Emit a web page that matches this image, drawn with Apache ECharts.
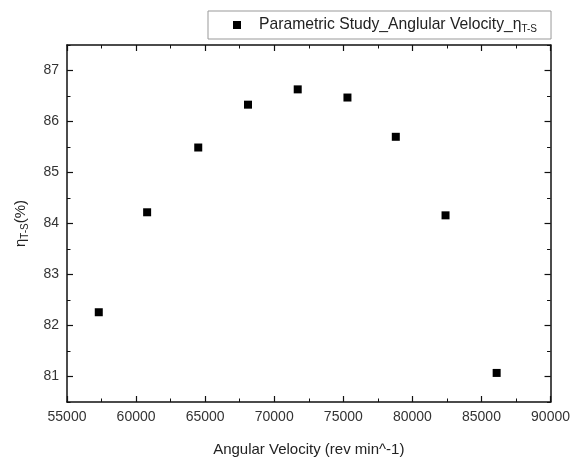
<!DOCTYPE html>
<html>
<head>
<meta charset="utf-8">
<script src="https://cdn.jsdelivr.net/npm/echarts@6/dist/echarts.min.js"></script>
<style>html,body{margin:0;padding:0;background:#fff}#c{width:573px;height:463px}</style>
</head>
<body>
<div id="c"></div>
<script>
const angularVelocity = [57300, 60800, 64500, 68100, 71700, 75300, 78800, 82400, 86100];
const efficiency = [82.26, 84.22, 85.49, 86.33, 86.63, 86.47, 85.70, 84.16, 81.07];
const yTickLabels = [81, 82, 83, 84, 85, 86, 87];
const seriesName = 'Parametric Study_Anglular Velocity_η';
const xTitle = 'Angular Velocity (rev min^-1)';

const chart = echarts.init(document.getElementById('c'));
const font = 'Liberation Sans, Arial, sans-serif';
const ink = '#111';
const lineStyle = { color: ink, width: 1.5 };
const majorTick = { show: true, inside: true, length: 6, lineStyle: { color: ink, width: 1.2 } };
const minorTickStyle = { show: true, inside: true, length: 3.5, lineStyle: { color: ink, width: 1 } };

function xAx(pos, labels) {
  return {
    type: 'value', min: 55000, max: 90000, interval: 5000, position: pos,
    axisLine: { show: true, onZero: false, lineStyle },
    axisTick: majorTick,
    minorTick: { show: true, splitNumber: 2, length: 3.5, lineStyle: { color: ink, width: 1 } },
    splitLine: { show: false }, minorSplitLine: { show: false },
    axisLabel: labels ? { color: '#333', fontFamily: font, fontSize: 14, margin: 8, formatter: v => String(v) } : { show: false }
  };
}
function yMajor(pos, labels) {
  return {
    type: 'value', min: 80.5, max: 87.5, position: pos,
    axisLine: { show: true, onZero: false, lineStyle },
    axisTick: Object.assign({}, majorTick, { customValues: yTickLabels }),
    splitLine: { show: false },
    axisLabel: labels ? { color: '#333', fontFamily: font, fontSize: 14, margin: 8, customValues: yTickLabels } : { show: false }
  };
}
function yMinor(pos) {
  return {
    type: 'value', min: 80.5, max: 87.5, interval: 0.5, position: pos,
    axisLine: { show: false }, axisTick: minorTickStyle,
    splitLine: { show: false }, axisLabel: { show: false }
  };
}

const xBottom = Object.assign(xAx('bottom', true), {
  name: xTitle, nameLocation: 'middle', nameGap: 40,
  nameTextStyle: { color: '#222', fontFamily: font, fontSize: 15 }
});
const yLeft = Object.assign(yMajor('left', true), {
  name: '{e|η}{s|T-S}{p|(%)}', nameLocation: 'middle', nameGap: 37, nameRotate: 90,
  nameTextStyle: {
    color: '#222', fontFamily: font, fontSize: 15,
    rich: {
      e: { fontSize: 15, fontFamily: font, color: '#222' },
      s: { fontSize: 10, fontFamily: font, color: '#222', padding: [8, 0, 0, 0] },
      p: { fontSize: 15, fontFamily: font, color: '#222' }
    }
  }
});

chart.setOption({
  animation: false,
  backgroundColor: '#fff',
  grid: { left: 67, right: 21, top: 45, bottom: 61 },
  legend: {
    left: 208, top: 11,
    data: [{ name: seriesName, icon: 'rect' }],
    itemWidth: 8, itemHeight: 8,
    borderColor: '#999', borderWidth: 1, borderRadius: 0,
    padding: [6, 14, 5, 25],
    formatter: () => '{a|' + seriesName + '}{s|T-S}',
    textStyle: {
      color: '#222', fontFamily: font, fontSize: 15.7,
      rich: {
        a: { fontSize: 15.7, fontFamily: font, color: '#222', padding: [0, 0, 0, 13] },
        s: { fontSize: 10, fontFamily: font, color: '#222', padding: [8, 0, 0, 0] }
      }
    }
  },
  xAxis: [xBottom, xAx('top', false)],
  yAxis: [yLeft, yMajor('right', false), yMinor('left'), yMinor('right')],
  series: [{
    name: seriesName,
    type: 'scatter',
    symbol: 'rect',
    symbolSize: 8,
    itemStyle: { color: '#000', opacity: 1 },
    xAxisIndex: 0, yAxisIndex: 0,
    data: angularVelocity.map((v, i) => [v, efficiency[i]])
  }]
});
</script>
</body>
</html>
